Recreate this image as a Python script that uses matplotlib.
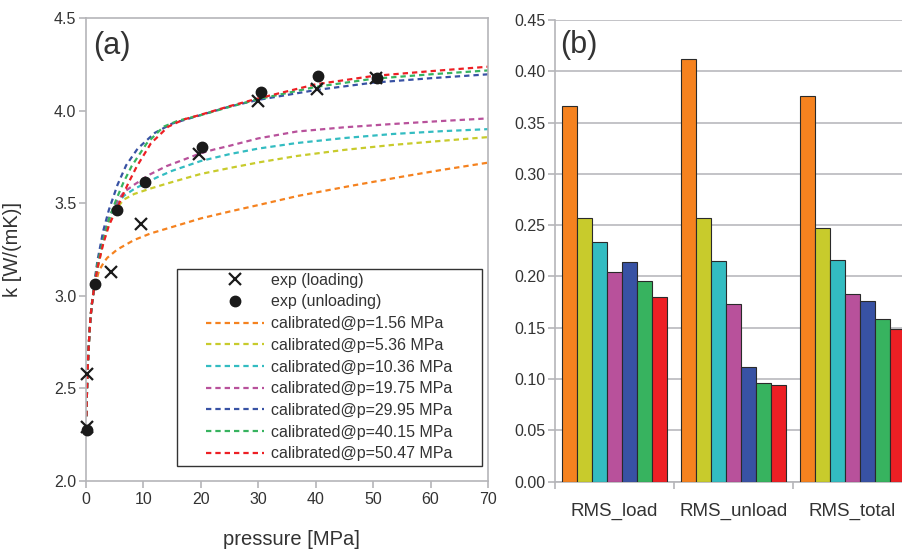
import numpy as np
import matplotlib.pyplot as plt
from matplotlib.patches import Rectangle
from matplotlib.ticker import FormatStrFormatter

plt.rcParams['font.family'] = ['Liberation Sans', 'DejaVu Sans']

# measured conductivity, loading / unloading
p_load = [0.1, 0.23, 4.35, 9.6, 19.7, 30.0, 40.3, 50.5]
k_load = [2.293, 2.576, 3.13, 3.386, 3.764, 4.052, 4.117, 4.178]
p_unload = [0.1, 1.57, 5.34, 10.33, 20.25, 30.4, 40.45, 50.6]
k_unload = [2.275, 3.062, 3.463, 3.613, 3.805, 4.099, 4.189, 4.174]

# low pressure branch shared by all calibrated curves
p_low = [0.08, 0.15, 0.23, 0.35, 0.47, 0.65, 0.81, 1.05, 1.27]
k_low = [2.35, 2.45, 2.545, 2.64, 2.725, 2.82, 2.89, 2.96, 3.01]

p_c156 = [1.7, 2.26, 3.1, 3.7, 5.45, 8.36, 11.27, 17, 20, 25, 30, 37, 46, 55, 62, 70]
k_c156 = [3.07, 3.135, 3.18, 3.205, 3.25, 3.301, 3.337, 3.39, 3.418, 3.455, 3.49, 3.54, 3.593, 3.643, 3.68, 3.719]
p_c536 = [1.5, 2, 3, 4, 5, 6.6, 8.4, 11.1, 14.2, 17, 20, 25, 30, 36.7, 45, 53.5, 62, 70]
k_c536 = [3.05, 3.14, 3.29, 3.39, 3.46, 3.52, 3.55, 3.578, 3.607, 3.632, 3.658, 3.69, 3.72, 3.755, 3.788, 3.815, 3.837, 3.857]
p_c1036 = [1.5, 2, 3, 4, 5, 6.6, 8.4, 11.1, 12.4, 15, 20, 25, 30, 36.7, 45, 53.5, 62, 70]
k_c1036 = [3.06, 3.15, 3.31, 3.41, 3.48, 3.54, 3.577, 3.62, 3.64, 3.675, 3.728, 3.765, 3.795, 3.825, 3.852, 3.874, 3.889, 3.90]
p_c1975 = [1.5, 2, 3, 4, 5, 6.6, 8.4, 11.1, 14, 17, 20, 22.3, 25, 30, 36.7, 45, 53.5, 62, 70]
k_c1975 = [3.06, 3.16, 3.32, 3.42, 3.49, 3.56, 3.60, 3.655, 3.70, 3.735, 3.77, 3.79, 3.81, 3.85, 3.887, 3.91, 3.928, 3.944, 3.958]
p_c2995 = [1.5, 2, 3, 4, 5.5, 7, 9, 12, 15, 20, 25, 30, 40, 50, 60, 70]
k_c2995 = [3.08, 3.19, 3.35, 3.465, 3.60, 3.705, 3.795, 3.88, 3.93, 3.976, 4.022, 4.058, 4.111, 4.151, 4.175, 4.196]
p_c4015 = [1.5, 2, 3, 4, 5.34, 6.5, 7.95, 10.57, 13.5, 16, 20, 25, 30, 40, 50, 60, 70]
k_c4015 = [3.07, 3.17, 3.30, 3.415, 3.525, 3.61, 3.70, 3.823, 3.913, 3.945, 3.976, 4.02, 4.062, 4.128, 4.172, 4.196, 4.217]
p_c5047 = [1.5, 2, 3, 4, 6.04, 7.4, 8.82, 11.3, 14.3, 17, 20, 25, 30, 40, 50, 60, 70]
k_c5047 = [3.06, 3.15, 3.28, 3.38, 3.517, 3.61, 3.697, 3.823, 3.913, 3.952, 3.978, 4.024, 4.066, 4.142, 4.187, 4.213, 4.237]

calib_labels = ['calibrated@p=1.56 MPa', 'calibrated@p=5.36 MPa', 'calibrated@p=10.36 MPa',
                'calibrated@p=19.75 MPa', 'calibrated@p=29.95 MPa', 'calibrated@p=40.15 MPa',
                'calibrated@p=50.47 MPa']
colors = ['#f5821f', '#c8cb2c', '#33bcc1', '#b8519b', '#3852a4', '#37b35f', '#ed1f24']

# RMS error of each calibration
categories = ['RMS_load', 'RMS_unload', 'RMS_total']
rms_156 = [0.366, 0.412, 0.376]
rms_536 = [0.257, 0.257, 0.247]
rms_1036 = [0.234, 0.215, 0.216]
rms_1975 = [0.204, 0.173, 0.183]
rms_2995 = [0.214, 0.112, 0.176]
rms_4015 = [0.196, 0.096, 0.159]
rms_5047 = [0.180, 0.094, 0.149]

grey = '#b5b5b9'
txt = '#333333'

fig = plt.figure(figsize=(9.02, 5.51), dpi=100)
ax1 = fig.add_axes([0.0953, 0.127, 0.4457, 0.8403])
ax2 = fig.add_axes([0.6153, 0.1258, 0.3958, 0.838])

# ---- (a) conductivity vs pressure
h_load, = ax1.plot(p_load, k_load, ls='none', marker='x', ms=9, mew=1.6, color='#1a1a1a',
                   zorder=6, clip_on=False)
h_unl, = ax1.plot(p_unload, k_unload, ls='none', marker='o', ms=7.5, color='#1a1a1a',
                  zorder=6, clip_on=False)
curves = [(p_c156, k_c156), (p_c536, k_c536), (p_c1036, k_c1036), (p_c1975, k_c1975),
          (p_c2995, k_c2995), (p_c4015, k_c4015), (p_c5047, k_c5047)]
handles = [h_load, h_unl]
for (p, k), c, lab in zip(curves, colors, calib_labels):
    h, = ax1.plot(p_low + p, k_low + k, ls=(0, (2.4, 1.8)), lw=1.6, color=c, label=lab)
    handles.append(h)

ax1.set_xlim(0, 70)
ax1.set_ylim(2.0, 4.5)
ax1.set_xticks(np.arange(0, 71, 10))
ax1.set_yticks(np.arange(2.0, 4.51, 0.5))
ax1.yaxis.set_major_formatter(FormatStrFormatter('%.1f'))
ax1.set_xlabel('pressure [MPa]', fontsize=14.5, color=txt)
ax1.set_ylabel('k [W/(mK)]', fontsize=14.5, color=txt)
ax1.xaxis.set_label_coords(0.51, -0.105)
ax1.yaxis.set_label_coords(-0.159, 0.5)
ax1.text(0.018, 0.972, '(a)', transform=ax1.transAxes, fontsize=22, va='top', color=txt)

ax1.add_patch(Rectangle((0.227, 0.033), 0.757, 0.426, transform=ax1.transAxes,
                        fc='white', ec='#333333', lw=1, zorder=4))
ax1.legend(handles, ['exp (loading)', 'exp (unloading)'] + calib_labels,
           loc='center', bbox_to_anchor=(0.6055, 0.246), frameon=False,
           fontsize=11.5, handlelength=3.6, handletextpad=0.45, labelspacing=0.42,
           labelcolor=txt)

# ---- (b) RMS bars
series = [rms_156, rms_536, rms_1036, rms_1975, rms_2995, rms_4015, rms_5047]
xg = np.arange(len(categories))
for j, (vals, c) in enumerate(zip(series, colors)):
    ax2.bar(xg + 0.0625 + j * 0.125, vals, width=0.125, align='edge', color=c,
            edgecolor='#2a2a2a', lw=0.8, zorder=3)

ax2.set_xlim(0, 3)
ax2.set_ylim(0, 0.45)
ax2.set_yticks(np.arange(0, 0.451, 0.05))
ax2.yaxis.set_major_formatter(FormatStrFormatter('%.2f'))
ax2.yaxis.grid(True, color='#b9b9bd', lw=1.2, zorder=0)
ax2.set_axisbelow(True)
ax2.set_xticks(xg + 0.5)
ax2.set_xticklabels(categories, fontsize=13.5, color=txt)
ax2.set_xticks(np.arange(0, 4), minor=True)
ax2.tick_params(axis='x', which='major', length=0, pad=15)
ax2.tick_params(axis='x', which='minor', length=5, width=1.2, color=grey)
ax2.text(0.014, 0.978, '(b)', transform=ax2.transAxes, fontsize=22, va='top', color=txt)
ax2.spines['top'].set_visible(False)
ax2.spines['right'].set_visible(False)

for ax in (ax1, ax2):
    for s in ax.spines.values():
        s.set_color(grey)
        s.set_linewidth(1.2)
    ax.tick_params(axis='y', length=5, width=1.2, color=grey, labelsize=11.5,
                   labelcolor=txt, pad=2)
ax1.tick_params(axis='x', length=5, width=1.2, color=grey, labelsize=11.5,
                labelcolor=txt, pad=3)

fig.savefig('out.png', dpi=100)
